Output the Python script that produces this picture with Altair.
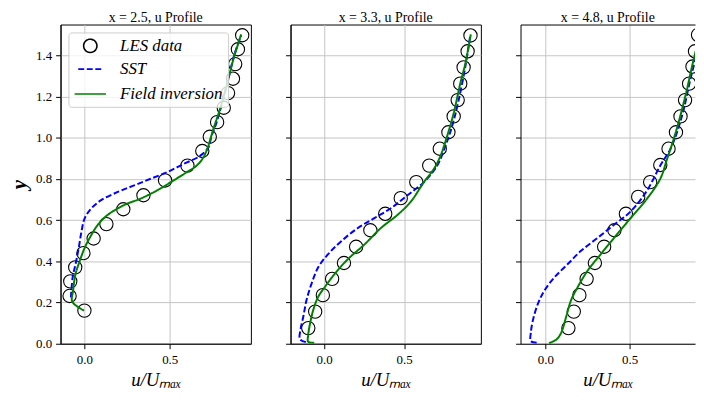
import altair as alt
import pandas as pd

SERIES = ["LES data", "SST", "Field inversion"]
COLORS = ["#000000", "#0000ff", "#008000"]

# ---------------- x = 2.5 ----------------
les1_u = [0.000, -0.087, -0.083, -0.054, -0.006, 0.054, 0.129, 0.228, 0.346, 0.473,
          0.604, 0.691, 0.735, 0.778, 0.817, 0.842, 0.871, 0.884, 0.900, 0.925]
les1_y = [0.161, 0.232, 0.303, 0.371, 0.440, 0.511, 0.581, 0.653, 0.721, 0.793,
          0.865, 0.936, 1.005, 1.076, 1.146, 1.217, 1.287, 1.358, 1.430, 1.498]
sst1_u = [-0.079, -0.069, -0.052, -0.033, -0.017, 0.002, 0.041, 0.098, 0.195, 0.292,
          0.388, 0.485, 0.581, 0.678, 0.726, 0.745, 0.774, 0.832, 0.880, 0.919]
sst1_y = [0.225, 0.323, 0.387, 0.467, 0.546, 0.610, 0.658, 0.697, 0.737, 0.769,
          0.801, 0.833, 0.873, 0.912, 0.952, 1.008, 1.072, 1.247, 1.406, 1.498]
fi1_u = [-0.002, -0.071, -0.066, -0.052, -0.027, 0.002, 0.031, 0.079, 0.137, 0.234,
         0.330, 0.427, 0.523, 0.600, 0.658, 0.697, 0.726, 0.755, 0.793, 0.832, 0.871, 0.919]
fi1_y = [0.161, 0.204, 0.260, 0.339, 0.403, 0.467, 0.514, 0.578, 0.626, 0.674,
         0.705, 0.745, 0.793, 0.833, 0.865, 0.904, 0.960, 1.040, 1.135, 1.247, 1.374, 1.502]

# ---------------- x = 3.3 ----------------
les2_u = [-0.099, -0.056, -0.008, 0.050, 0.124, 0.200, 0.289, 0.382, 0.479, 0.576,
          0.657, 0.723, 0.777, 0.810, 0.835, 0.851, 0.872, 0.897, 0.915]
les2_y = [0.076, 0.156, 0.236, 0.315, 0.392, 0.471, 0.551, 0.631, 0.707, 0.785,
          0.865, 0.947, 1.027, 1.104, 1.183, 1.263, 1.342, 1.420, 1.497]
sst2_u = [-0.114, -0.151, -0.148, -0.130, -0.110, -0.079, -0.037, 0.025, 0.107, 0.211,
          0.314, 0.417, 0.521, 0.624, 0.707, 0.758, 0.800, 0.841, 0.882, 0.913]
sst2_y = [0.008, 0.022, 0.068, 0.132, 0.212, 0.291, 0.371, 0.435, 0.498, 0.562,
          0.610, 0.658, 0.721, 0.785, 0.865, 0.960, 1.056, 1.183, 1.342, 1.494]
fi2_u = [-0.062, -0.100, -0.100, -0.090, -0.068, -0.037, 0.004, 0.066, 0.149, 0.252,
         0.355, 0.459, 0.541, 0.624, 0.686, 0.727, 0.769, 0.810, 0.851, 0.882, 0.917]
fi2_y = [0.005, 0.010, 0.040, 0.090, 0.164, 0.228, 0.275, 0.339, 0.411, 0.482,
         0.562, 0.626, 0.689, 0.785, 0.849, 0.912, 1.008, 1.119, 1.263, 1.358, 1.502]

# ---------------- x = 4.8 ----------------
les3_u = [0.137, 0.169, 0.202, 0.245, 0.294, 0.349, 0.410, 0.478, 0.551, 0.622,
          0.682, 0.731, 0.775, 0.802, 0.829, 0.853, 0.873, 0.888, 0.906]
les3_y = [0.076, 0.156, 0.236, 0.315, 0.392, 0.471, 0.551, 0.631, 0.713, 0.785,
          0.868, 0.947, 1.027, 1.104, 1.183, 1.263, 1.346, 1.420, 1.500]
sst3_u = [-0.051, -0.086, -0.086, -0.073, -0.043, -0.004, 0.055, 0.133, 0.212, 0.310,
          0.408, 0.506, 0.604, 0.682, 0.741, 0.780, 0.820, 0.859, 0.898, 0.927]
sst3_y = [0.005, 0.013, 0.053, 0.116, 0.196, 0.260, 0.323, 0.387, 0.451, 0.514,
          0.578, 0.642, 0.745, 0.865, 0.944, 1.024, 1.135, 1.279, 1.406, 1.502]
fi3_u = [0.022, 0.065, 0.094, 0.124, 0.153, 0.192, 0.251, 0.329, 0.408, 0.506,
         0.604, 0.682, 0.722, 0.761, 0.800, 0.839, 0.878, 0.918]
fi3_y = [0.003, 0.020, 0.053, 0.132, 0.212, 0.275, 0.355, 0.435, 0.514, 0.610,
         0.705, 0.801, 0.896, 0.992, 1.104, 1.231, 1.374, 1.502]

titles = ["x = 2.5, u Profile", "x = 3.3, u Profile", "x = 4.8, u Profile"]
x_domains = [[-0.14, 0.976], [-0.21, 0.98], [-0.147, 0.888]]
widths = [192, 192, 176]
y_ticks = [0.0, 0.2, 0.4, 0.6, 0.8, 1.0, 1.2, 1.4]
x_ticks = [0.0, 0.5]

FONT = "Liberation Serif"
H = 322


def panel(les_u, les_y, sst_u, sst_y, fi_u, fi_y, title, xdom, width, idx):
    pts = pd.DataFrame({"u": les_u, "y": les_y, "series": "LES data"})
    lines = pd.concat([
        pd.DataFrame({"u": sst_u, "y": sst_y, "series": "SST", "i": range(len(sst_u))}),
        pd.DataFrame({"u": fi_u, "y": fi_y, "series": "Field inversion", "i": range(len(fi_u))}),
    ])
    first = idx == 0
    last = idx == 2
    xs = alt.Scale(domain=xdom, nice=False, zero=False)
    ys = alt.Scale(domain=[0, 1.55], nice=False, zero=False)
    xaxis = alt.Axis(values=x_ticks, format=".1f", title="u/Uₘₐₓ",
                     labelFont=FONT, titleFont=FONT, labelFontSize=13,
                     titleFontStyle="italic", titleFontSize=19, titleFontWeight="normal",
                     titlePadding=4, labelPadding=5)
    yaxis = alt.Axis(values=y_ticks, format=".1f", labels=first,
                     labelFont=FONT, titleFont=FONT, labelFontSize=13,
                     title="y" if first else None, titleFontStyle="italic",
                     titleFontSize=21, titleFontWeight="bold", titleAngle=-90,
                     titlePadding=6, labelPadding=4)
    if first:
        leg = alt.Legend(orient="top-left", offset=8, title=None,
                         labelFont=FONT, labelFontStyle="italic", labelFontSize=17,
                         labelColor="#000000",
                         fillColor="rgba(255,255,255,0.8)", strokeColor="#cccccc",
                         cornerRadius=3, padding=5, rowPadding=-9,
                         symbolStrokeWidth=1.6, labelOffset=13,
                         symbolFillColor="transparent")
    else:
        leg = None
    cscale = alt.Scale(domain=SERIES, range=COLORS)
    shscale = alt.Scale(domain=SERIES, range=["circle", "stroke", "stroke"])
    szscale = alt.Scale(domain=SERIES, range=[180, 1000, 1000])
    dscale = alt.Scale(domain=SERIES, range=[[1, 0], [6, 2.6], [1, 0]])

    p = alt.Chart(pts).mark_point(filled=False, strokeWidth=1.1, opacity=1, clip=True).encode(
        x=alt.X("u:Q", scale=xs, axis=xaxis),
        y=alt.Y("y:Q", scale=ys, axis=yaxis),
        color=alt.Color("series:N", scale=cscale, legend=leg),
        shape=alt.Shape("series:N", scale=shscale, legend=leg),
        size=alt.Size("series:N", scale=szscale, legend=leg),
    )
    top_axis = alt.Axis(orient="top", labels=False, ticks=False, grid=False, title=None,
                        domain=True) if last else xaxis
    l = alt.Chart(lines).mark_line(strokeWidth=2, clip=True, interpolate="catmull-rom").encode(
        x=alt.X("u:Q", scale=xs, axis=top_axis),
        y=alt.Y("y:Q", scale=ys, axis=yaxis),
        color=alt.Color("series:N", scale=cscale, legend=leg),
        strokeDash=alt.StrokeDash("series:N", scale=dscale, legend=leg),
        order=alt.Order("i:Q"),
        detail="series:N",
    )
    props = dict(width=width, height=H,
                 title=alt.TitleParams(title, fontSize=14, font=FONT, fontWeight="normal",
                                       color="#000000", offset=0))
    if last:
        props["view"] = alt.ViewBackground(stroke="transparent")
    ch = alt.layer(p, l).properties(**props)
    if last:
        ch = ch.resolve_axis(x="independent")
    return ch


p1 = panel(les1_u, les1_y, sst1_u, sst1_y, fi1_u, fi1_y, titles[0], x_domains[0], widths[0], 0)
p2 = panel(les2_u, les2_y, sst2_u, sst2_y, fi2_u, fi2_y, titles[1], x_domains[1], widths[1], 1)
p3 = panel(les3_u, les3_y, sst3_u, sst3_y, fi3_u, fi3_y, titles[2], x_domains[2], widths[2], 2)

chart = alt.hconcat(p1, p2, p3, spacing=33).resolve_scale(
    color="independent", shape="independent", size="independent", strokeDash="independent"
).resolve_legend(
    color="independent", shape="independent", size="independent", strokeDash="independent"
).properties(
    padding={"left": 0, "top": 0, "right": 0, "bottom": 0}
).configure(font=FONT).configure_axis(
    labelFont=FONT, titleFont=FONT, labelFontSize=13, labelColor="#000000",
    titleColor="#000000", tickColor="#000000", tickSize=5, tickWidth=1,
    domain=True, domainColor="#000000", domainWidth=1,
    grid=True, gridColor="#c4c4c4", gridWidth=1,
).configure_view(stroke="#000000", strokeWidth=1)

chart.save("out.html", embed_options={"renderer": "svg", "actions": False})
